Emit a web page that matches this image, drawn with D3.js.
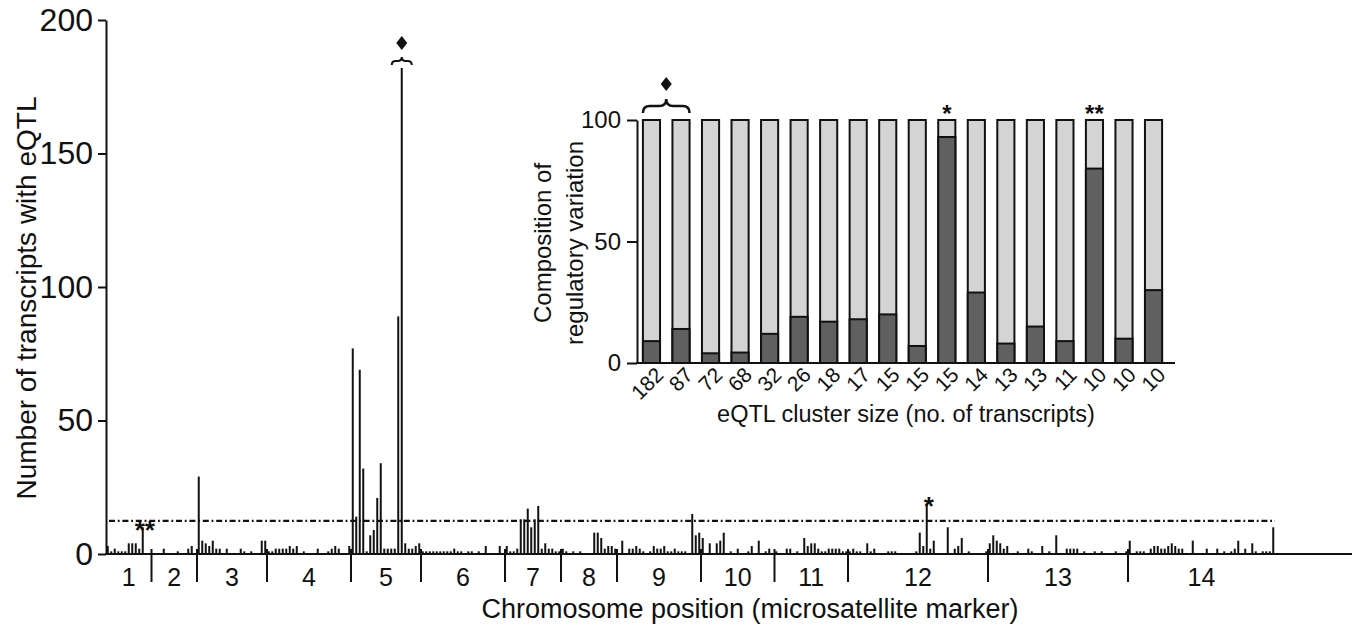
<!DOCTYPE html>
<html>
<head>
<meta charset="utf-8">
<script src="https://cdn.jsdelivr.net/npm/d3@7"></script>
<style>
  body { margin: 0; background: #fff; }
  text { font-family: "Liberation Sans", Arial, sans-serif; fill: #111; }
</style>
</head>
<body>
<svg id="chart" width="1356" height="630"></svg>
<script>
// nombre de transcrits avec eQTL, un tableau par chromosome (un chiffre par marqueur)
const chr1 = [3,1,2,1,1,1,4,4,4,2,10,0,0];
const chr2 = [0,0,0,2,0,0,0,1,0,0,2,3,0];
const chr3 = [29,5,4,3,5,2,2,0,2,0,0,0,2,1,0,1,0,0,5,5];
const chr4 = [1,1,2,2,2,2,3,2,3,0,1,0,0,0,2,0,0,1,2,3,2,0,0,3];
const chr5 = [77,14,69,32,1,7,9,21,34,2,2,2,2,89,182,4,2,2,3,4];
const chr6 = [1,1,1,1,1,1,1,1,1,2,1,1,0,1,1,0,1,0,3,0,0,0,3,0];
const chr7 = [3,1,1,2,13,13,17,10,13,18,2,4,2,2,1,1];
const chr8 = [2,1,0,1,0,1,0,0,0,8,8,6,2,3,3,2];
const chr9 = [0,5,0,2,2,3,2,1,0,1,3,2,2,3,1,1,2,1,1,1,0,15,7,8];
const chr10 = [6,0,4,0,4,5,8,0,1,0,2,0,0,1,3,0,5,0,1,2,0];
const chr11 = [1,0,0,2,2,0,1,0,6,3,4,4,2,1,1,2,2,2,2,1,1];
const chr12 = [1,2,1,1,0,4,1,2,0,0,0,1,1,1,0,0,0,0,0,1,8,3,19,2,5,0,0,0,10,0,2,3,6,0,1,0,0,0,0,1];
const chr13 = [4,7,5,4,2,3,0,0,1,0,0,2,1,0,0,3,0,1,0,7,0,0,2,2,2,2,0,1,0,0,1,0,1,0,0,0,1,0,0,1];
const chr14 = [5,0,1,1,1,0,2,3,3,2,2,3,4,3,2,2,0,0,5,0,0,0,2,0,0,2,0,1,0,1,2,5,0,2,0,4,1,0,1,1,1,10];

const chromosomes = ["1","2","3","4","5","6","7","8","9","10","11","12","13","14"];
const parChromosome = [chr1,chr2,chr3,chr4,chr5,chr6,chr7,chr8,chr9,chr10,chr11,chr12,chr13,chr14];
const seuil = 12.4;
const yTicks = [0, 50, 100, 150, 200];
// annotations au-dessus du plus grand pic du chromosome
const marques = [{ chr: "1", txt: "**" }, { chr: "12", txt: "*" }];
const chrLosange = "5";

// encart : composition (sombre = part en %)
const tailles = ["182","87","72","68","32","26","18","17","15","15","15","14","13","13","11","10","10","10"];
const partSombre = [9,14,4,4.3,12,19,17,18,20,7,93,29,8,15,9,80,10,30];
const insetTicks = [0, 50, 100];
const etoilesEncart = [{ i: 10, txt: "*" }, { i: 15, txt: "**" }];

// ---- aplatir les marqueurs
let marqueurs = [];
let debuts = [];
parChromosome.forEach(function (vals, c) {
    debuts.push(marqueurs.length);
    vals.forEach(function (v) {
        marqueurs.push({ chr: chromosomes[c], idx: marqueurs.length, v: v });
    });
});
const N = marqueurs.length;

let svg = d3.select('#chart');

let x = d3.scaleLinear().domain([0, N]).range([106, 106 + N * 3.5]);
let y = d3.scaleLinear().domain([0, 200]).range([554, 20]);

// barres (traits fins)
svg.append('g').selectAll('line')
    .data(marqueurs.filter(d => d.v > 0))
    .enter().append('line')
    .attr("x1", d => x(d.idx + 0.5))
    .attr("x2", d => x(d.idx + 0.5))
    .attr("y1", y(0))
    .attr("y2", d => y(d.v))
    .attr("stroke", "#111")
    .attr("stroke-width", 2);

// seuil en tirets-points
svg.append('line')
    .attr("x1", x(0) + 3).attr("x2", x(N))
    .attr("y1", y(seuil)).attr("y2", y(seuil))
    .attr("stroke", "#111")
    .attr("stroke-width", 2.2)
    .attr("stroke-dasharray", "6,2.8,1.8,2.8");

// axe y
let axeY = svg.append('g')
    .attr("transform", "translate(106,0)")
    .call(d3.axisLeft(y).tickValues(yTicks).tickSize(8).tickSizeOuter(0).tickPadding(5));
axeY.select('.domain').attr("stroke", "#111").attr("stroke-width", 2);
axeY.selectAll('.tick line').attr("stroke", "#111").attr("stroke-width", 2);
axeY.selectAll('.tick text').attr("font-size", 32).attr("fill", "#111")
    .style("font-family", '"Liberation Sans", Arial, sans-serif');

// axe x (ligne)
svg.append('line')
    .attr("x1", 105).attr("x2", 1352)
    .attr("y1", y(0)).attr("y2", y(0))
    .attr("stroke", "#111").attr("stroke-width", 2);

// séparateurs de chromosomes
svg.append('g').selectAll('line')
    .data(debuts.slice(1))
    .enter().append('line')
    .attr("x1", d => x(d)).attr("x2", d => x(d))
    .attr("y1", y(0) - 5).attr("y2", y(0) + 28)
    .attr("stroke", "#111").attr("stroke-width", 2);

// noms des chromosomes
svg.append('g').selectAll('text')
    .data(chromosomes)
    .enter().append('text')
    .attr("x", function (d, i) {
        let fin = i + 1 < debuts.length ? debuts[i + 1] : N;
        return (x(debuts[i]) + x(fin)) / 2;
    })
    .attr("y", 586)
    .attr("text-anchor", "middle")
    .attr("font-size", 25)
    .text(d => d);

// titres
svg.append('text')
    .attr("x", 750).attr("y", 618)
    .attr("text-anchor", "middle")
    .attr("font-size", 27)
    .text("Chromosome position (microsatellite marker)");

svg.append('text')
    .attr("transform", "translate(36,298) rotate(-90)")
    .attr("text-anchor", "middle")
    .attr("font-size", 28)
    .text("Number of transcripts with eQTL");

// étoiles du graphe principal
marques.forEach(function (m) {
    let pic = marqueurs.filter(d => d.chr == m.chr).reduce((a, b) => b.v > a.v ? b : a);
    svg.append('text')
        .attr("x", x(pic.idx + 0.5) + 2)
        .attr("y", y(pic.v) + 12)
        .attr("text-anchor", "middle")
        .attr("font-size", 26)
        .attr("font-weight", "bold")
        .text(m.txt);
});

function accolade(x0, x1, yy, h) {
    let cx = (x0 + x1) / 2;
    return "M" + x0 + "," + (yy + h / 2) + " Q" + x0 + "," + yy + " " + (x0 + h / 2) + "," + yy +
        " L" + (cx - h / 2) + "," + yy + " Q" + cx + "," + yy + " " + cx + "," + (yy - h / 2) +
        " Q" + cx + "," + yy + " " + (cx + h / 2) + "," + yy +
        " L" + (x1 - h / 2) + "," + yy + " Q" + x1 + "," + yy + " " + x1 + "," + (yy + h / 2);
}
function losange(cx, cy, w, h) {
    return d3.line()([[cx, cy - h], [cx + w, cy], [cx, cy + h], [cx - w, cy]]) + "Z";
}

// accolade + losange sur le grand pic
let grand = marqueurs.filter(d => d.chr == chrLosange).reduce((a, b) => b.v > a.v ? b : a);
let gx = x(grand.idx + 0.5);
svg.append('path')
    .attr("d", accolade(gx - 10, gx + 10, y(grand.v) - 7, 8))
    .attr("fill", "none").attr("stroke", "#111").attr("stroke-width", 2);
svg.append('path')
    .attr("d", losange(gx, y(grand.v) - 25, 5.5, 7))
    .attr("fill", "#111");

// ---- encart
let xi = d3.scaleBand().domain(d3.range(tailles.length)).range([637, 1168])
    .paddingInner(0.42).paddingOuter(0.2);
let yi = d3.scaleLinear().domain([0, 100]).range([363, 120]);

let colonnes = svg.append('g').selectAll('g')
    .data(partSombre)
    .enter().append('g');

colonnes.append('rect')
    .attr("x", (d, i) => xi(i))
    .attr("y", yi(100))
    .attr("width", xi.bandwidth())
    .attr("height", yi(0) - yi(100))
    .attr("fill", "#d4d4d4")
    .attr("stroke", "#111").attr("stroke-width", 2);

colonnes.append('rect')
    .attr("x", (d, i) => xi(i))
    .attr("y", d => yi(d))
    .attr("width", xi.bandwidth())
    .attr("height", d => yi(0) - yi(d))
    .attr("fill", "#606060")
    .attr("stroke", "#111").attr("stroke-width", 2);

let axeYi = svg.append('g')
    .attr("transform", "translate(637,0)")
    .call(d3.axisLeft(yi).tickValues(insetTicks).tickSize(10).tickSizeOuter(0).tickPadding(6));
axeYi.select('.domain').attr("stroke", "#111").attr("stroke-width", 2);
axeYi.selectAll('.tick line').attr("stroke", "#111").attr("stroke-width", 2);
axeYi.selectAll('.tick text').attr("font-size", 24).attr("fill", "#111")
    .style("font-family", '"Liberation Sans", Arial, sans-serif');

svg.append('line')
    .attr("x1", 636).attr("x2", 1175)
    .attr("y1", yi(0)).attr("y2", yi(0))
    .attr("stroke", "#111").attr("stroke-width", 2);

svg.append('g').selectAll('text')
    .data(tailles)
    .enter().append('text')
    .attr("transform", (d, i) => "translate(" + (xi(i) + xi.bandwidth() / 2 + 8) + "," + 371 + ") rotate(-45)")
    .attr("text-anchor", "end")
    .attr("dy", "0.35em")
    .attr("font-size", 21)
    .text(d => d);

svg.append('text')
    .attr("x", 906).attr("y", 422)
    .attr("text-anchor", "middle")
    .attr("font-size", 23.5)
    .text("eQTL cluster size (no. of transcripts)");

svg.append('text')
    .attr("transform", "translate(551,243) rotate(-90)")
    .attr("text-anchor", "middle")
    .attr("font-size", 24)
    .text("Composition of");
svg.append('text')
    .attr("transform", "translate(583,243) rotate(-90)")
    .attr("text-anchor", "middle")
    .attr("font-size", 24)
    .text("regulatory variation");

etoilesEncart.forEach(function (e) {
    svg.append('text')
        .attr("x", xi(e.i) + xi.bandwidth() / 2)
        .attr("y", yi(100) + 2)
        .attr("text-anchor", "middle")
        .attr("font-size", 24)
        .attr("font-weight", "bold")
        .text(e.txt);
});

// accolade sur les deux premières barres
let bx0 = xi(0), bx1 = xi(1) + xi.bandwidth();
svg.append('path')
    .attr("d", accolade(bx0, bx1, 106, 14))
    .attr("fill", "none").attr("stroke", "#111").attr("stroke-width", 2.5);
svg.append('path')
    .attr("d", losange((bx0 + bx1) / 2, 84, 5.5, 7))
    .attr("fill", "#111");
</script>
</body>
</html>
